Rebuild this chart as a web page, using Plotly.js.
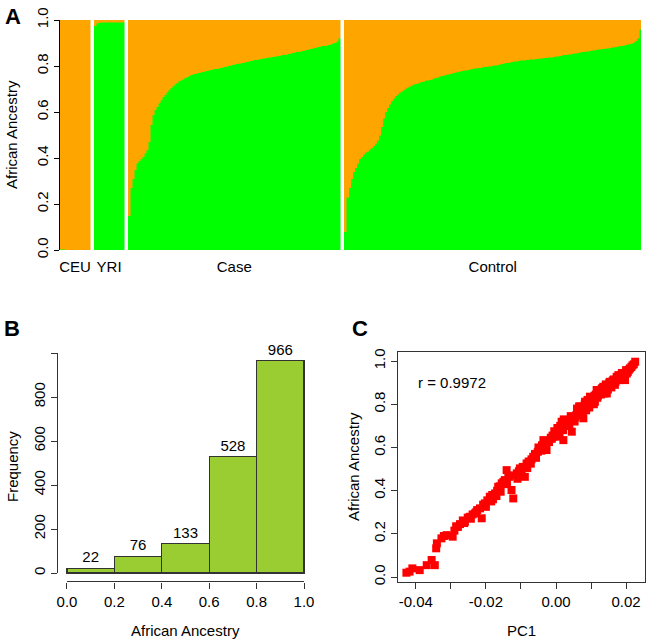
<!DOCTYPE html>
<html>
<head>
<meta charset="utf-8">
<script src="https://cdn.plot.ly/plotly-3.0.1.min.js"></script>
<style>
  html, body { margin: 0; padding: 0; background: #fff; }
  #chart { width: 647px; height: 639px; }
</style>
</head>
<body>
<div id="chart"></div>
<script>
// Panel A: African ancestry per individual, sorted within group
var groupNames = ['CEU', 'YRI', 'Case', 'Control'];
var ceuAfr = [0.004, 0.003, 0.003, 0.002, 0.002, 0.002, 0.001, 0.001, 0.001, 0.001,
    0.001, 0.0, 0.0, 0.0, 0.0];
var yriAfr = [0.975, 0.985, 0.988, 0.99, 0.99, 0.99, 0.99, 0.99, 0.99, 0.99,
    0.99, 0.99, 0.99, 0.99, 0.99];
var caseAfr = [0.15, 0.27, 0.31, 0.35, 0.377, 0.388, 0.396, 0.406, 0.42, 0.435,
    0.47, 0.545, 0.587, 0.61, 0.623, 0.638, 0.652, 0.667, 0.674, 0.686,
    0.696, 0.706, 0.714, 0.72, 0.728, 0.735, 0.739, 0.743, 0.748, 0.752,
    0.757, 0.761, 0.764, 0.767, 0.769, 0.771, 0.773, 0.775, 0.777, 0.779,
    0.781, 0.783, 0.785, 0.787, 0.789, 0.791, 0.793, 0.795, 0.797, 0.799,
    0.801, 0.803, 0.805, 0.807, 0.809, 0.811, 0.813, 0.815, 0.817, 0.819,
    0.821, 0.823, 0.825, 0.827, 0.828, 0.83, 0.831, 0.833, 0.834, 0.836,
    0.837, 0.839, 0.84, 0.842, 0.843, 0.845, 0.846, 0.848, 0.849, 0.851,
    0.853, 0.855, 0.857, 0.859, 0.861, 0.863, 0.865, 0.867, 0.869, 0.871,
    0.873, 0.875, 0.877, 0.879, 0.881, 0.883, 0.885, 0.887, 0.889, 0.891,
    0.893, 0.895, 0.898, 0.902, 0.908, 0.92];
var controlAfr = [0.08, 0.23, 0.27, 0.31, 0.34, 0.358, 0.377, 0.396, 0.406, 0.416,
    0.425, 0.43, 0.438, 0.445, 0.454, 0.464, 0.478, 0.50, 0.536, 0.572,
    0.601, 0.619, 0.633, 0.648, 0.659, 0.67, 0.678, 0.686, 0.691, 0.697,
    0.703, 0.707, 0.712, 0.716, 0.72, 0.723, 0.726, 0.729, 0.732, 0.734,
    0.737, 0.739, 0.741, 0.743, 0.746, 0.749, 0.752, 0.756, 0.758, 0.76,
    0.762, 0.765, 0.767, 0.769, 0.771, 0.773, 0.775, 0.777, 0.779, 0.781,
    0.782, 0.784, 0.786, 0.788, 0.79, 0.791, 0.792, 0.793, 0.794, 0.796,
    0.797, 0.798, 0.799, 0.801, 0.803, 0.804, 0.806, 0.808, 0.81, 0.812,
    0.814, 0.815, 0.817, 0.818, 0.82, 0.821, 0.822, 0.824, 0.825, 0.826,
    0.827, 0.828, 0.829, 0.829, 0.83, 0.831, 0.832, 0.833, 0.834, 0.835,
    0.836, 0.837, 0.838, 0.839, 0.84, 0.842, 0.843, 0.845, 0.846, 0.848,
    0.849, 0.851, 0.852, 0.854, 0.855, 0.856, 0.858, 0.859, 0.861, 0.862,
    0.864, 0.865, 0.867, 0.868, 0.869, 0.871, 0.872, 0.873, 0.874, 0.875,
    0.877, 0.878, 0.879, 0.881, 0.882, 0.884, 0.885, 0.887, 0.889, 0.891,
    0.893, 0.895, 0.897, 0.90, 0.904, 0.91, 0.92, 0.96];

// Panel B: histogram of African ancestry
var binMids = [0.1, 0.3, 0.5, 0.7, 0.9];
var binCounts = [22, 76, 133, 528, 966];

// Panel C: PC1 vs African ancestry
var pc1 = [-0.0427, -0.0418, -0.0410, -0.0389, -0.0369, -0.0355, -0.0346, -0.0342, -0.0340, -0.0327,
    -0.0320, -0.0312, -0.0295, -0.0290, -0.0280, -0.0274, -0.0266, -0.0260, -0.0252, -0.0246,
    -0.0238, -0.0231, -0.0225, -0.0217, -0.0212, -0.0208, -0.0203, -0.0196, -0.0189, -0.0182,
    -0.0180, -0.0174, -0.0168, -0.0165, -0.0160, -0.0155, -0.0150, -0.0146, -0.0141, -0.0136,
    -0.0134, -0.0127, -0.0122, -0.0118, -0.0112, -0.0106, -0.0103, -0.0095, -0.0089, -0.0084,
    -0.0078, -0.0070, -0.0065, -0.0060, -0.0052, -0.0046, -0.0040, -0.0036, -0.0030, -0.0027,
    -0.0022, -0.0015, -0.0008, -0.0003, 0.0002, 0.0007, 0.0010, 0.0016, 0.0018, 0.0021,
    0.0025, 0.0030, 0.0035, 0.0040, 0.0045, 0.0049, 0.0053, 0.0058, 0.0064, 0.0068,
    0.0073, 0.0078, 0.0080, 0.0083, 0.0088, 0.0092, 0.0097, 0.0100, 0.0105, 0.0111,
    0.0114, 0.0116, 0.0120, 0.0125, 0.0130, 0.0135, 0.0140, 0.0145, 0.0150, 0.0154,
    0.0160, 0.0165, 0.0170, 0.0173, 0.0180, 0.0185, 0.0192, 0.0197, 0.0205, 0.0211,
    0.0218, 0.0226, 0.0222,
    -0.0285, -0.0262, -0.0243, -0.0228, -0.0200, -0.0185, -0.0170, -0.0158, -0.0140, -0.0110,
    -0.0098, -0.0082, -0.0072, -0.0057, -0.0042, -0.0033, -0.0020, -0.0012, -0.0005, 0.0000,
    0.0004, 0.0012, 0.0020, 0.0022, 0.0032, 0.0038, 0.0042, 0.0047, 0.0055, 0.0060,
    0.0062, 0.0070, 0.0075, 0.0082, 0.0086, 0.0090, 0.0095, 0.0102, 0.0108, 0.0110,
    0.0118, 0.0122, 0.0128, 0.0132, 0.0138, 0.0142, 0.0148, 0.0152, 0.0158, 0.0162,
    0.0168, 0.0175, 0.0178, 0.0183, 0.0188, 0.0195, 0.0200, 0.0208, 0.0215,
    -0.0050, -0.0010, 0.0028, 0.0052, 0.0066, 0.0085, 0.0106, 0.0126, 0.0146, 0.0165,
    0.0182, 0.0202];
var afrAnc = [0.020, 0.025, 0.040, 0.032, 0.055, 0.079, 0.055, 0.133, 0.156, 0.179,
    0.190, 0.194, 0.187, 0.215, 0.232, 0.245, 0.262, 0.256, 0.275, 0.279,
    0.290, 0.295, 0.310, 0.318, 0.272, 0.335, 0.341, 0.355, 0.372, 0.380,
    0.360, 0.387, 0.400, 0.418, 0.420, 0.434, 0.441, 0.449, 0.495, 0.470,
    0.464, 0.403, 0.364, 0.470, 0.480, 0.490, 0.503, 0.510, 0.464, 0.526,
    0.535, 0.545, 0.557, 0.570, 0.580, 0.596, 0.610, 0.634, 0.615, 0.588,
    0.630, 0.645, 0.650, 0.662, 0.670, 0.688, 0.660, 0.719, 0.690, 0.634,
    0.700, 0.704, 0.712, 0.725, 0.673, 0.742, 0.720, 0.750, 0.773, 0.755,
    0.770, 0.735, 0.785, 0.812, 0.790, 0.800, 0.835, 0.810, 0.825, 0.812,
    0.845, 0.866, 0.840, 0.855, 0.870, 0.881, 0.865, 0.850, 0.885, 0.904,
    0.895, 0.915, 0.905, 0.927, 0.925, 0.935, 0.943, 0.912, 0.950, 0.966,
    0.980, 0.997, 0.985,
    0.235, 0.250, 0.270, 0.300, 0.325, 0.350, 0.375, 0.395, 0.430, 0.455,
    0.495, 0.505, 0.525, 0.552, 0.585, 0.600, 0.625, 0.640, 0.675, 0.650,
    0.690, 0.700, 0.680, 0.730, 0.720, 0.700, 0.745, 0.728, 0.740, 0.780,
    0.760, 0.790, 0.762, 0.800, 0.772, 0.820, 0.785, 0.825, 0.800, 0.840,
    0.830, 0.862, 0.845, 0.875, 0.850, 0.892, 0.868, 0.900, 0.878, 0.910,
    0.890, 0.912, 0.935, 0.918, 0.945, 0.930, 0.958, 0.960, 0.972,
    0.600, 0.655, 0.715, 0.735, 0.790, 0.805, 0.818, 0.848, 0.872, 0.895,
    0.912, 0.942];

var FONT = 'Liberation Sans, Arial, sans-serif';

// lay the groups side by side with two empty slots between them
var groups = [ceuAfr, yriAfr, caseAfr, controlAfr];
var xs = [], afr = [], eur = [], centers = [];
var pos = 0;
groups.forEach(function(g) {
    var start = pos;
    g.forEach(function(v) {
        xs.push(pos);
        afr.push(v);
        eur.push(1 - v);
        pos++;
    });
    centers.push((start + pos - 1) / 2);
    pos += 2;
});
var lastSlot = pos - 3;

var traces = [
    {
        x: xs, y: afr, type: 'bar', width: 1,
        marker: { color: '#00ff00', line: { color: '#00ff00', width: 0.5 } },
        xaxis: 'x', yaxis: 'y', hoverinfo: 'skip'
    },
    {
        x: xs, y: eur, type: 'bar', width: 1,
        marker: { color: '#ffa500', line: { color: '#ffa500', width: 0.5 } },
        xaxis: 'x', yaxis: 'y', hoverinfo: 'skip'
    },
    {
        x: binMids, y: binCounts, type: 'bar', width: 0.2,
        text: binCounts.map(String), textposition: 'outside', cliponaxis: false,
        textfont: { family: FONT, size: 15, color: '#000' },
        marker: { color: '#9acd32', line: { color: '#333333', width: 1.2 } },
        xaxis: 'x2', yaxis: 'y2'
    },
    {
        x: pc1, y: afrAnc, type: 'scatter', mode: 'markers',
        marker: { symbol: 'square', size: 8, color: '#ff0000' },
        xaxis: 'x3', yaxis: 'y3'
    }
];

var tickFont = { family: FONT, size: 15, color: '#000' };

function note(text, x, y, opts) {
    var a = {
        text: text, xref: 'paper', yref: 'paper', x: x / 647, y: 1 - y / 639,
        xanchor: 'center', yanchor: 'middle', showarrow: false,
        font: { family: FONT, size: 15, color: '#000' }
    };
    for (var k in opts) a[k] = opts[k];
    return a;
}

var layout = {
    width: 647,
    height: 639,
    margin: { l: 0, r: 0, t: 0, b: 0 },
    paper_bgcolor: '#fff',
    plot_bgcolor: '#fff',
    showlegend: false,
    barmode: 'stack',
    bargap: 0,
    font: { family: FONT, size: 15, color: '#000' },

    xaxis: {
        domain: [60 / 647, 641 / 647], anchor: 'y',
        range: [-0.5, lastSlot + 0.5],
        tickvals: centers, ticktext: groupNames,
        ticks: '', ticklabelstandoff: 6,
        showline: false, showgrid: false, zeroline: false, tickfont: tickFont
    },
    yaxis: {
        domain: [1 - 250 / 639, 1 - 20 / 639], anchor: 'x',
        range: [0, 1],
        tickvals: [0, 0.2, 0.4, 0.6, 0.8, 1.0],
        ticktext: ['0.0', '0.2', '0.4', '0.6', '0.8', '1.0'],
        tickangle: -90, ticks: 'outside', ticklen: 5, tickcolor: '#000',
        showline: true, linecolor: '#000', linewidth: 1,
        showgrid: false, zeroline: false, tickfont: tickFont
    },

    xaxis2: {
        domain: [57.5 / 647, 313.5 / 647], anchor: 'y2',
        range: [-0.04, 1.04],
        tickvals: [0, 0.2, 0.4, 0.6, 0.8, 1.0],
        ticktext: ['0.0', '0.2', '0.4', '0.6', '0.8', '1.0'],
        ticks: 'outside', ticklen: 6, tickcolor: '#333',
        showline: false, showgrid: false, zeroline: false, tickfont: tickFont
    },
    yaxis2: {
        domain: [1 - 581.5 / 639, 1 - 352 / 639], anchor: 'x2',
        range: [-38.64, 1004.64],
        tickvals: [0, 200, 400, 600, 800, 1000],
        ticktext: ['0', '200', '400', '600', '800', ''],
        tickangle: -90, ticks: 'outside', ticklen: 6, tickcolor: '#333',
        showline: false, showgrid: false, zeroline: false, tickfont: tickFont
    },

    xaxis3: {
        domain: [398 / 647, 645 / 647], anchor: 'y3',
        range: [-0.0451, 0.0254],
        tickvals: [-0.04, -0.03, -0.02, -0.01, 0, 0.01, 0.02],
        ticktext: ['-0.04', '', '-0.02', '', '0.00', '', '0.02'],
        ticks: 'outside', ticklen: 6, tickcolor: '#333',
        showline: true, mirror: true, linecolor: '#333', linewidth: 1,
        showgrid: false, zeroline: false, tickfont: tickFont
    },
    yaxis3: {
        domain: [1 - 582 / 639, 1 - 352 / 639], anchor: 'x3',
        range: [-0.023, 1.042],
        tickvals: [0, 0.2, 0.4, 0.6, 0.8, 1.0],
        ticktext: ['0.0', '0.2', '0.4', '0.6', '0.8', '1.0'],
        tickangle: -90, ticks: 'outside', ticklen: 6, tickcolor: '#333',
        showline: true, mirror: true, linecolor: '#333', linewidth: 1,
        showgrid: false, zeroline: false, tickfont: tickFont
    },

    // R-style detached axis lines for the histogram
    shapes: [
        { type: 'line', xref: 'x2', x0: 0, x1: 1, yref: 'y2 domain', y0: 0, y1: 0,
          line: { color: '#333', width: 1 } },
        { type: 'line', xref: 'x2 domain', x0: 0, x1: 0, yref: 'y2', y0: 0, y1: 1000,
          line: { color: '#333', width: 1 } }
    ],

    annotations: [
        note('<b>A</b>', 13, 16, { font: { family: FONT, size: 22, color: '#000' } }),
        note('<b>B</b>', 12, 328, { font: { family: FONT, size: 22, color: '#000' } }),
        note('<b>C</b>', 360, 328, { font: { family: FONT, size: 22, color: '#000' } }),
        note('African Ancestry', 12, 135, { textangle: -90 }),
        note('Frequency', 12, 467, { textangle: -90 }),
        note('African Ancestry', 185.5, 630),
        note('African Ancestry', 353, 467, { textangle: -90 }),
        note('PC1', 521, 630),
        { text: 'r = 0.9972', xref: 'x3', yref: 'y3', x: -0.0297, y: 0.90,
          xanchor: 'center', yanchor: 'middle', showarrow: false,
          font: { family: FONT, size: 15, color: '#000' } }
    ]
};

Plotly.newPlot('chart', traces, layout, { staticPlot: true, displayModeBar: false });
</script>
</body>
</html>
